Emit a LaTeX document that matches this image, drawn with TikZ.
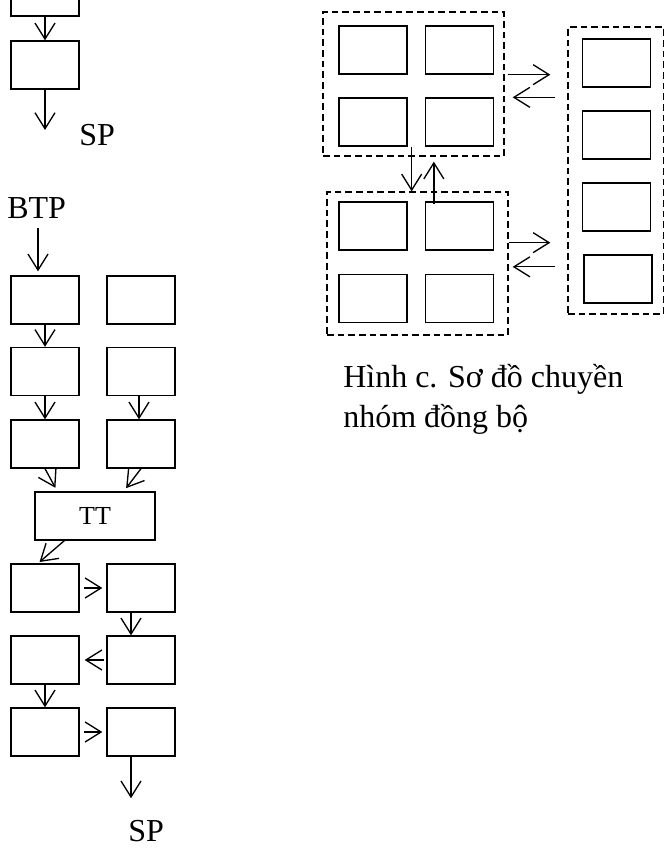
\documentclass[tikz,border=0pt]{standalone}
\usepackage{fontspec}
\setmainfont{Liberation Serif}
\usetikzlibrary{arrows.meta, fit}

\tikzset{
  box/.style={draw, line width=1pt, minimum width=51pt, minimum height=36pt, inner sep=0pt},
  grp/.style={draw, line width=1pt, dash pattern=on 5pt off 3pt, inner sep=0pt},
  arr/.style={line width=1pt, -{Straight Barb[length=12pt, width=15pt]}},
  lbl/.style={inner sep=0pt, font=\fontsize{24}{29}\selectfont},
}

\begin{document}
\begin{tikzpicture}[x=0.75pt, y=-0.75pt]
  \useasboundingbox (0,0) rectangle (665,848);

  % end of the single line
  \node[box] (t1) at (45,-8) {};
  \node[box] (t2) at (45,65) {};
  \node[lbl, anchor=base west] (spA) at (79,146) {SP};
  \draw[arr] (t1) -- (t2);
  \draw[arr, shorten >=12pt] (t2.south) -- (t2.south |- spA.base);

  % two parallel lines joined at TT
  \node[lbl, anchor=base west] (btp) at (7,219) {BTP};
  \node[box] (r1a) at (45,300) {};
  \node[box] (r1b) at (141,300) {};
  \node[box] (r2a) at (45,371.5) {};
  \node[box] (r2b) at (141,371.5) {};
  \node[box] (r3a) at (45,444) {};
  \node[box] (r3b) at (141,444) {};
  \node[box, minimum width=90pt, font=\fontsize{19.5}{23}\selectfont] (tt) at (95,516) {TT};
  \node[box] (r4a) at (45,588) {};
  \node[box] (r4b) at (141,588) {};
  \node[box] (r5a) at (45,660) {};
  \node[box] (r5b) at (141,660) {};
  \node[box] (r6a) at (45,732) {};
  \node[box] (r6b) at (141,732) {};
  \node[lbl, anchor=base west] (spB) at (128,841) {SP};

  \draw[arr, shorten <=6.75pt, shorten >=3pt] ([xshift=-5.25pt]r1a.north |- btp.south) -- ([xshift=-5.25pt]r1a.north);
  \draw[arr] (r1a) -- (r2a);
  \draw[arr] (r2a) -- (r3a);
  \draw[arr] ([xshift=-1.5pt]r2b.south) -- ([xshift=-1.5pt]r3b.north);
  \draw[arr, shorten >=3pt] (r3a.south) -- ([xshift=17.25pt]tt.north west);
  \draw[arr, shorten >=3pt] (r3b.south) -- ([xshift=-24pt]tt.north east);
  \draw[arr, shorten >=1.5pt] ([xshift=22.5pt]tt.south west) -- ([xshift=-5.25pt]r4a.north);
  \draw[arr, shorten <=3pt, shorten >=3pt] (r4a) -- (r4b);
  \draw[arr] ([xshift=-7.5pt]r4b.south) -- ([xshift=-7.5pt]r5b.north);
  \draw[arr, shorten <=1.5pt, shorten >=3.75pt] (r5b) -- (r5a);
  \draw[arr] (r5a) -- (r6a);
  \draw[arr, shorten <=3pt, shorten >=3pt] (r6a) -- (r6b);
  \draw[arr, shorten >=16pt] ([xshift=-7.5pt]r6b.south) -- ([xshift=-7.5pt]r6b.south |- spB.north);

  % synchronised groups
  \node[box] (a11) at (373,50) {};
  \node[box] (a12) at (459.5,50) {};
  \node[box] (a21) at (373,122) {};
  \node[box] (a22) at (459.5,122) {};
  \node[grp, fit={(323,12) (504,156)}] (grpA) {};

  \node[box] (b11) at (373,226) {};
  \node[box] (b12) at (459.5,226) {};
  \node[box] (b21) at (373,298.5) {};
  \node[box] (b22) at (459.5,298.5) {};
  \node[grp, fit={(327,192) (508,335)}] (grpB) {};

  \node[box] (c1) at (616.5,63) {};
  \node[box] (c2) at (616.5,135) {};
  \node[box] (c3) at (616.5,207) {};
  \node[box] (c4) at (618,279) {};
  \node[grp, fit={(568,27) (663.5,314)}] (grpC) {};

  \draw[arr, shorten <=2.25pt, shorten >=12.75pt] (a12.south east -| grpA.east) -- (a12.south east -| grpC.west);
  \draw[arr, shorten <=9pt, shorten >=6pt] (a22.north east -| grpC.west) -- (a22.north east -| grpA.east);
  \draw[arr, shorten >=12.75pt] ([yshift=6pt]b12.south east -| grpB.east) -- ([yshift=6pt]b12.south east -| grpC.west);
  \draw[arr, shorten <=9pt, shorten >=3pt] ([yshift=5.25pt]b22.north east -| grpC.west) -- ([yshift=5.25pt]b22.north east -| grpB.east);
  \draw[arr] ([xshift=3pt]a21.south east) -- ([xshift=3pt]a21.south east |- grpB.north);
  \draw[arr, shorten <=-2.25pt, shorten >=3.75pt] ([xshift=6.75pt]b12.north west) -- ([xshift=6.75pt]b12.north west |- grpA.south);

  \node[lbl, anchor=base west] (capA) at (343,387) {Hình c. Sơ đồ chuyền};
  \node[lbl, anchor=base west] (capB) at (343,427) {nhóm đồng bộ};
\end{tikzpicture}
\end{document}
